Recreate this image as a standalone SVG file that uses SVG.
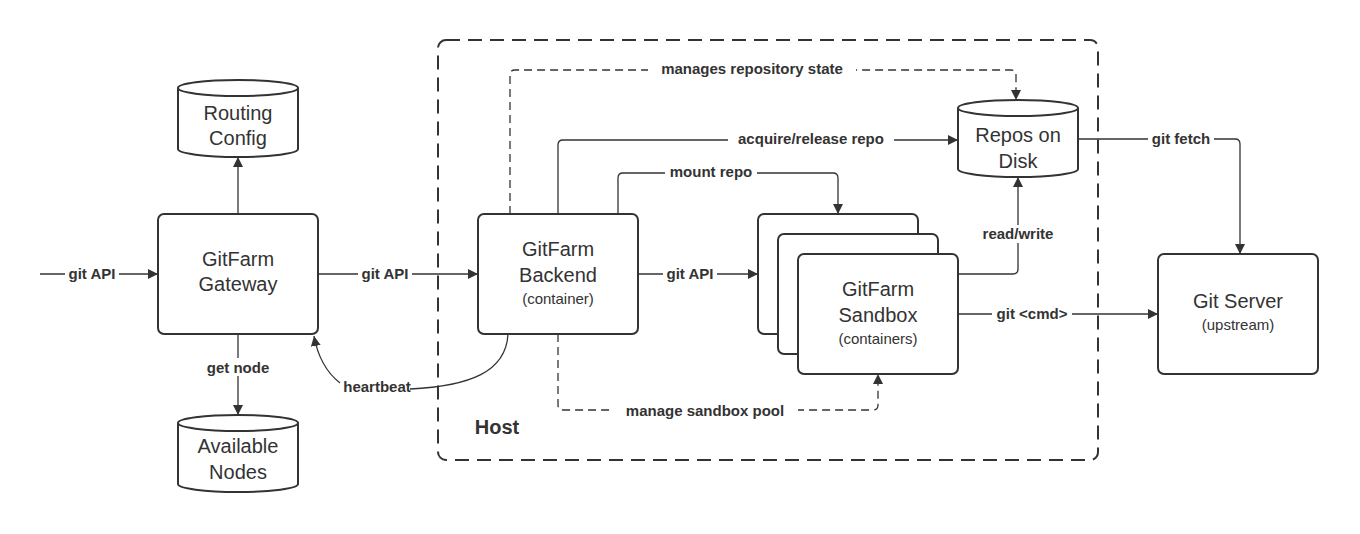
<svg xmlns="http://www.w3.org/2000/svg" width="1360" height="534" viewBox="0 0 1360 534">
<style>
.n{fill:#fff;stroke:#333;stroke-width:2}
.t{font-family:"Liberation Sans",Arial,sans-serif;font-size:20px;fill:#333;text-anchor:middle}
.s{font-family:"Liberation Sans",Arial,sans-serif;font-size:15px;fill:#333;text-anchor:middle}
.l{font-family:"Liberation Sans",Arial,sans-serif;font-size:15px;font-weight:bold;fill:#333;text-anchor:middle}
.c{fill:none;stroke:#333;stroke-width:1.3}
.d{stroke-dasharray:8 5}
.lb{fill:#fff}
</style>
<defs>
<marker id="a" viewBox="0 0 10 10" refX="10" refY="5" markerWidth="10" markerHeight="10" markerUnits="userSpaceOnUse" orient="auto"><path d="M0,0 L10,5 L0,10 z" fill="#333"/></marker>
</defs>
<rect width="1360" height="534" fill="#fff"/>
<g id="host"><rect x="438" y="40" width="660" height="420" rx="8" fill="none" stroke="#333" stroke-width="2" stroke-dasharray="14 8"/><text x="497" y="434" class="l" style="font-size:20px">Host</text></g>
<g id="connectors">
<path class="c" d="M40,274 H158" marker-end="url(#a)"/>
<path class="c" d="M318,274 H478" marker-end="url(#a)"/>
<path class="c" d="M638,274 H758" marker-end="url(#a)"/>
<path class="c" d="M238,214 V157" marker-end="url(#a)"/>
<path class="c" d="M238,334 V415" marker-end="url(#a)"/>
<path class="c" d="M508,334 C506,372 470,386 410,389"/>
<path class="c" d="M340,383 C326,372 318,358 314,336" marker-end="url(#a)"/>
<path class="c d" d="M510,214 V75 Q510,70 515,70 H1011 Q1016,70 1016,75 V100" marker-end="url(#a)"/>
<path class="c" d="M558,214 V145 Q558,140 563,140 H958" marker-end="url(#a)"/>
<path class="c" d="M618,214 V178 Q618,173 623,173 H833 Q838,173 838,178 V214" marker-end="url(#a)"/>
<path class="c" d="M958,274 H1013 Q1018,274 1018,269 V177" marker-end="url(#a)"/>
<path class="c" d="M958,314 H1158" marker-end="url(#a)"/>
<path class="c" d="M1078,139 H1235 Q1240,139 1240,144 V254" marker-end="url(#a)"/>
<path class="c d" d="M558,334 V405 Q558,410 563,410 H873 Q878,410 878,405 V374" marker-end="url(#a)"/>
<g>
<rect class="lb" x="65" y="264" width="54" height="18"/><text class="l" x="92" y="279">git API</text>
<rect class="lb" x="358" y="264" width="54" height="18"/><text class="l" x="385" y="279">git API</text>
<rect class="lb" x="663" y="264" width="54" height="18"/><text class="l" x="690" y="279">git API</text>
<rect class="lb" x="203" y="358" width="70" height="18"/><text class="l" x="238" y="373">get node</text>
<text class="l" x="377" y="392">heartbeat</text>
<rect class="lb" x="648" y="60" width="208" height="18"/><text class="l" x="752" y="74">manages repository state</text>
<rect class="lb" x="728" y="130" width="166" height="18"/><text class="l" x="811" y="144">acquire/release repo</text>
<rect class="lb" x="665" y="163" width="92" height="18"/><text class="l" x="711" y="177">mount repo</text>
<rect class="lb" x="978" y="225" width="80" height="18"/><text class="l" x="1018" y="239">read/write</text>
<rect class="lb" x="992" y="305" width="80" height="18"/><text class="l" x="1032" y="319">git &lt;cmd&gt;</text>
<rect class="lb" x="1148" y="130" width="66" height="18"/><text class="l" x="1181" y="144">git fetch</text>
<rect class="lb" x="612" y="401" width="186" height="18"/><text class="l" x="705" y="416">manage sandbox pool</text>
</g>
</g>
<g id="routing"><path class="n" d="M178,88 A60,8 0 0 1 298,88 V149 A60,8 0 0 1 178,149 Z"/><path class="c" style="stroke-width:2" d="M178,88 A60,8 0 0 0 298,88"/><text class="t" x="238" y="120">Routing</text><text class="t" x="238" y="145">Config</text></g>
<g id="gateway"><rect class="n" x="158" y="214" width="160" height="120" rx="6"/><text class="t" x="238" y="266">GitFarm</text><text class="t" x="238" y="291">Gateway</text></g>
<g id="nodes"><path class="n" d="M178,423 A60,8 0 0 1 298,423 V484 A60,8 0 0 1 178,484 Z"/><path class="c" style="stroke-width:2" d="M178,423 A60,8 0 0 0 298,423"/><text class="t" x="238" y="453">Available</text><text class="t" x="238" y="479">Nodes</text></g>
<g id="backend"><rect class="n" x="478" y="214" width="160" height="120" rx="6"/><text class="t" x="558" y="256">GitFarm</text><text class="t" x="558" y="282">Backend</text><text class="s" x="558" y="304">(container)</text></g>
<g id="sandbox"><rect class="n" x="758" y="214" width="160" height="120" rx="6"/><rect class="n" x="778" y="234" width="160" height="120" rx="6"/><rect class="n" x="798" y="254" width="160" height="120" rx="6"/><text class="t" x="878" y="296">GitFarm</text><text class="t" x="878" y="322">Sandbox</text><text class="s" x="878" y="344">(containers)</text></g>
<g id="repos"><path class="n" d="M958,108 A60,8 0 0 1 1078,108 V169 A60,8 0 0 1 958,169 Z"/><path class="c" style="stroke-width:2" d="M958,108 A60,8 0 0 0 1078,108"/><text class="t" x="1018" y="142">Repos on</text><text class="t" x="1018" y="168">Disk</text></g>
<g id="gitserver"><rect class="n" x="1158" y="254" width="160" height="120" rx="6"/><text class="t" x="1238" y="308">Git Server</text><text class="s" x="1238" y="330">(upstream)</text></g>
</svg>
